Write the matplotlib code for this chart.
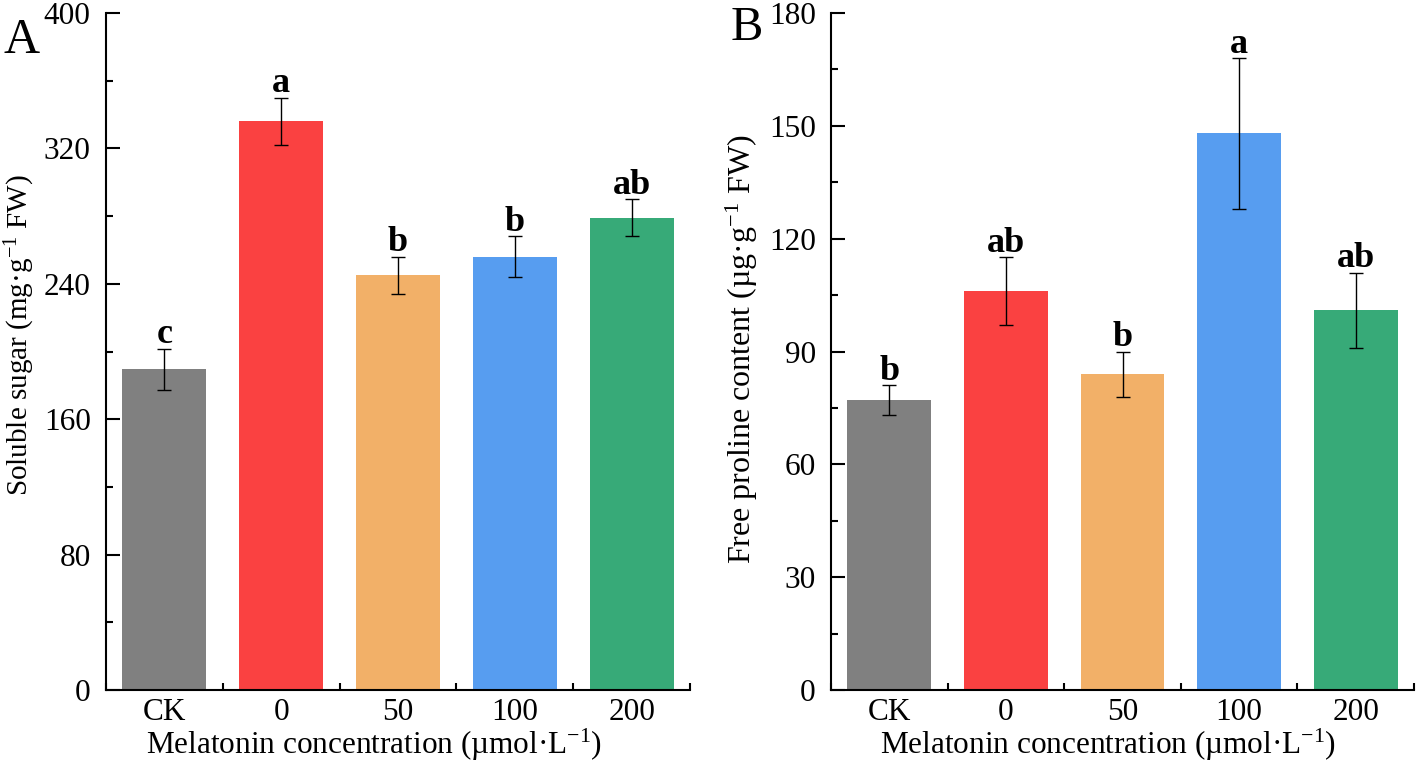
import matplotlib
matplotlib.use("Agg")
import matplotlib.pyplot as plt
import numpy as np
from matplotlib.ticker import MultipleLocator

plt.rcParams["font.family"] = ["Liberation Serif", "DejaVu Serif"]
plt.rcParams["mathtext.fontset"] = "custom"
plt.rcParams["mathtext.rm"] = "Liberation Serif"
plt.rcParams["mathtext.it"] = "Liberation Serif:italic"
plt.rcParams["mathtext.bf"] = "Liberation Serif:bold"

# data
categories = ["CK", "0", "50", "100", "200"]
bar_colors = ["#808080", "#FA4141", "#F2B068", "#579DF0", "#37AA78"]

sugar = [189.5, 336, 245, 256, 279]
sugar_err = [12, 14, 11, 12, 11]
sugar_letters = ["c", "a", "b", "b", "ab"]

proline = [77, 106, 84, 148, 101]
proline_err = [4, 9, 6, 20, 10]
proline_letters = ["b", "ab", "b", "a", "ab"]

fig = plt.figure(figsize=(14.17, 7.61), dpi=100)
axA = fig.add_axes([106 / 1417, 71 / 761, 584 / 1417, 677 / 761])
axB = fig.add_axes([831 / 1417, 71 / 761, 583 / 1417, 677 / 761])


def draw_panel(ax, values, errors, letters, ymax, ystep, ylabel, ylab_size,
               ylab_xy, xlab_x):
    x = np.arange(len(categories))
    ax.bar(x, values, width=0.72, color=bar_colors, zorder=2)
    ax.errorbar(x, values, yerr=errors, fmt="none", ecolor="black",
                elinewidth=1, capsize=5, capthick=1, zorder=3)
    for xi, v, e, lab in zip(x, values, errors, letters):
        ax.annotate(lab, (xi, v + e), xytext=(0, 4), textcoords="offset points",
                    ha="center", va="baseline", fontsize=26, fontweight="bold")
    ax.set_xlim(-0.5, len(categories) - 0.5)
    ax.set_ylim(0, ymax)
    ax.set_xticks(x)
    ax.set_xticklabels(categories)
    ax.xaxis.set_minor_locator(MultipleLocator(1, offset=0.5))
    ax.yaxis.set_major_locator(MultipleLocator(ystep))
    ax.yaxis.set_minor_locator(MultipleLocator(ystep / 2))
    ax.tick_params(which="both", direction="in", width=1.5, labelsize=22.5)
    ax.tick_params(which="major", length=10)
    ax.tick_params(which="minor", length=5)
    ax.tick_params(axis="y", pad=11)
    ax.tick_params(axis="x", pad=6)
    for s in ["top", "right"]:
        ax.spines[s].set_visible(False)
    for s in ["left", "bottom"]:
        ax.spines[s].set_linewidth(1.5)
    ax.set_ylabel(ylabel, fontsize=ylab_size)
    ax.yaxis.set_label_coords(*ylab_xy)
    ax.set_xlabel("Melatonin concentration (µmol·L$^{-1}$)", fontsize=22.5,
                  va="baseline")
    ax.xaxis.set_label_coords(xlab_x, -0.095)


draw_panel(axA, sugar, sugar_err, sugar_letters, 400, 80,
           "Soluble sugar (mg·g$^{-1}$ FW)", 21, (-0.118, 0.524), 0.459)
draw_panel(axB, proline, proline_err, proline_letters, 180, 30,
           "Free proline content (µg·g$^{-1}$ FW)", 23, (-0.122, 0.504), 0.476)

fig.text(4 / 1417, 1 - 53 / 761, "A", fontsize=36, va="baseline")
fig.text(731 / 1417, 1 - 40 / 761, "B", fontsize=35, va="baseline")

fig.savefig("out.png", dpi=100)
